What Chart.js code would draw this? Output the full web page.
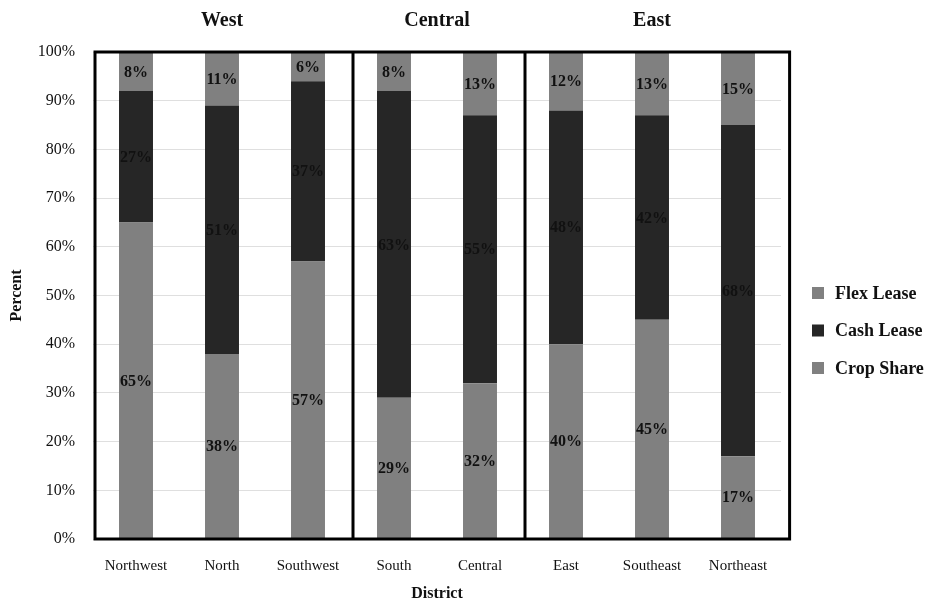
<!DOCTYPE html>
<html>
<head>
<meta charset="utf-8">
<script src="https://cdn.jsdelivr.net/npm/chart.js@4.4.1/dist/chart.umd.min.js"></script>
<style>
  html, body { margin: 0; padding: 0; background: #ffffff; }
  #wrap { width: 933px; height: 605px; }
</style>
</head>
<body>
<div id="wrap"><canvas id="c" width="933" height="605"></canvas></div>
<script>
// Lease arrangement shares by district (percent of acres)
const districts = ['Northwest', 'North', 'Southwest', 'South', 'Central', 'East', 'Southeast', 'Northeast'];
const cropShare = [65, 38, 57, 29, 32, 40, 45, 17];
const cashLease = [27, 51, 37, 63, 55, 48, 42, 68];
const flexLease = [8, 11, 6, 8, 13, 12, 13, 15];
const yTicks = [0, 10, 20, 30, 40, 50, 60, 70, 80, 90, 100];

// Regions and how many districts each one spans
const regionNames = ['West', 'Central', 'East'];
const regionSizes = [3, 2, 3];

const SERIF = '"Liberation Serif", "DejaVu Serif", serif';
const GRAY = '#808080';
const DARK = '#262626';

// Percent labels centred in each stacked segment
const segmentLabels = {
  id: 'segmentLabels',
  afterDatasetsDraw(chart) {
    const ctx = chart.ctx;
    ctx.save();
    ctx.font = 'bold 16px ' + SERIF;
    ctx.fillStyle = '#111111';
    ctx.textAlign = 'center';
    ctx.textBaseline = 'middle';
    chart.data.datasets.forEach((ds, di) => {
      const meta = chart.getDatasetMeta(di);
      meta.data.forEach((bar, i) => {
        const p = bar.getProps(['x', 'y', 'base'], true);
        ctx.fillText(ds.data[i] + '%', p.x, (p.y + p.base) / 2 + 1);
      });
    });
    ctx.restore();
  }
};

// Region frames, dividers and headings
const regionFrames = {
  id: 'regionFrames',
  afterDraw(chart) {
    const ctx = chart.ctx;
    const xs = chart.scales.x;
    const area = chart.chartArea;
    const step = xs.getPixelForValue(1) - xs.getPixelForValue(0);
    const left = area.left + 2;
    const right = xs.getPixelForValue(districts.length - 1) + step * 0.6;
    ctx.save();
    ctx.strokeStyle = '#000000';
    ctx.lineWidth = 3;
    ctx.strokeRect(left, area.top, right - left, area.bottom - area.top);
    let start = 0;
    ctx.font = 'bold 20px ' + SERIF;
    ctx.fillStyle = '#111111';
    ctx.textAlign = 'center';
    ctx.textBaseline = 'middle';
    regionSizes.forEach((n, r) => {
      const end = start + n - 1;
      const cx = (xs.getPixelForValue(start) + xs.getPixelForValue(end)) / 2;
      ctx.fillText(regionNames[r], cx, 21);
      if (r < regionSizes.length - 1) {
        const dx = (xs.getPixelForValue(end) + xs.getPixelForValue(end + 1)) / 2 + 2;
        ctx.beginPath();
        ctx.moveTo(dx, area.top);
        ctx.lineTo(dx, area.bottom);
        ctx.stroke();
      }
      start += n;
    });
    ctx.restore();
  }
};

// Legend listed top series first
const sideLegend = {
  id: 'sideLegend',
  afterDraw(chart) {
    const ctx = chart.ctx;
    const sets = chart.data.datasets.slice().reverse();
    ctx.save();
    ctx.font = 'bold 18px ' + SERIF;
    ctx.textAlign = 'left';
    ctx.textBaseline = 'middle';
    sets.forEach((ds, k) => {
      const cy = 293 + k * 37.5;
      ctx.fillStyle = ds.backgroundColor;
      ctx.fillRect(812, cy - 6, 12, 12);
      ctx.fillStyle = '#111111';
      ctx.fillText(ds.label, 835, cy + 1);
    });
    ctx.restore();
  }
};

new Chart(document.getElementById('c'), {
  type: 'bar',
  data: {
    labels: districts,
    datasets: [
      { label: 'Crop Share', data: cropShare, backgroundColor: GRAY },
      { label: 'Cash Lease', data: cashLease, backgroundColor: DARK },
      { label: 'Flex Lease', data: flexLease, backgroundColor: GRAY }
    ]
  },
  options: {
    responsive: false,
    animation: false,
    layout: { padding: { left: 0, right: 152, top: 52, bottom: 0 } },
    datasets: { bar: { barPercentage: 0.395, categoryPercentage: 1 } },
    plugins: { legend: { display: false }, tooltip: { enabled: false } },
    scales: {
      x: {
        stacked: true,
        grid: { display: false, drawTicks: false },
        border: { display: false },
        ticks: { color: '#111111', font: { family: SERIF, size: 15 }, padding: 18, maxRotation: 0, autoSkip: false },
        title: { display: true, text: 'District', color: '#111111', font: { family: SERIF, size: 16, weight: 'bold' }, padding: { top: 0, bottom: 2 } },
        afterFit(s) { s.height = 66; }
      },
      y: {
        stacked: true,
        min: 0,
        max: 100,
        z: 1,
        afterBuildTicks(s) { s.ticks = yTicks.map(v => ({ value: v })); },
        grid: { color: 'rgba(150,150,150,0.3)', lineWidth: 1, drawTicks: false },
        border: { display: false },
        ticks: { color: '#111111', font: { family: SERIF, size: 16 }, padding: 18, callback: v => v + '%' },
        title: { display: true, text: 'Percent', color: '#111111', font: { family: SERIF, size: 16, weight: 'bold' }, padding: { top: 7, bottom: 0 } },
        afterFit(s) { s.width = 93; }
      }
    }
  },
  plugins: [segmentLabels, regionFrames, sideLegend]
});
</script>
</body>
</html>
